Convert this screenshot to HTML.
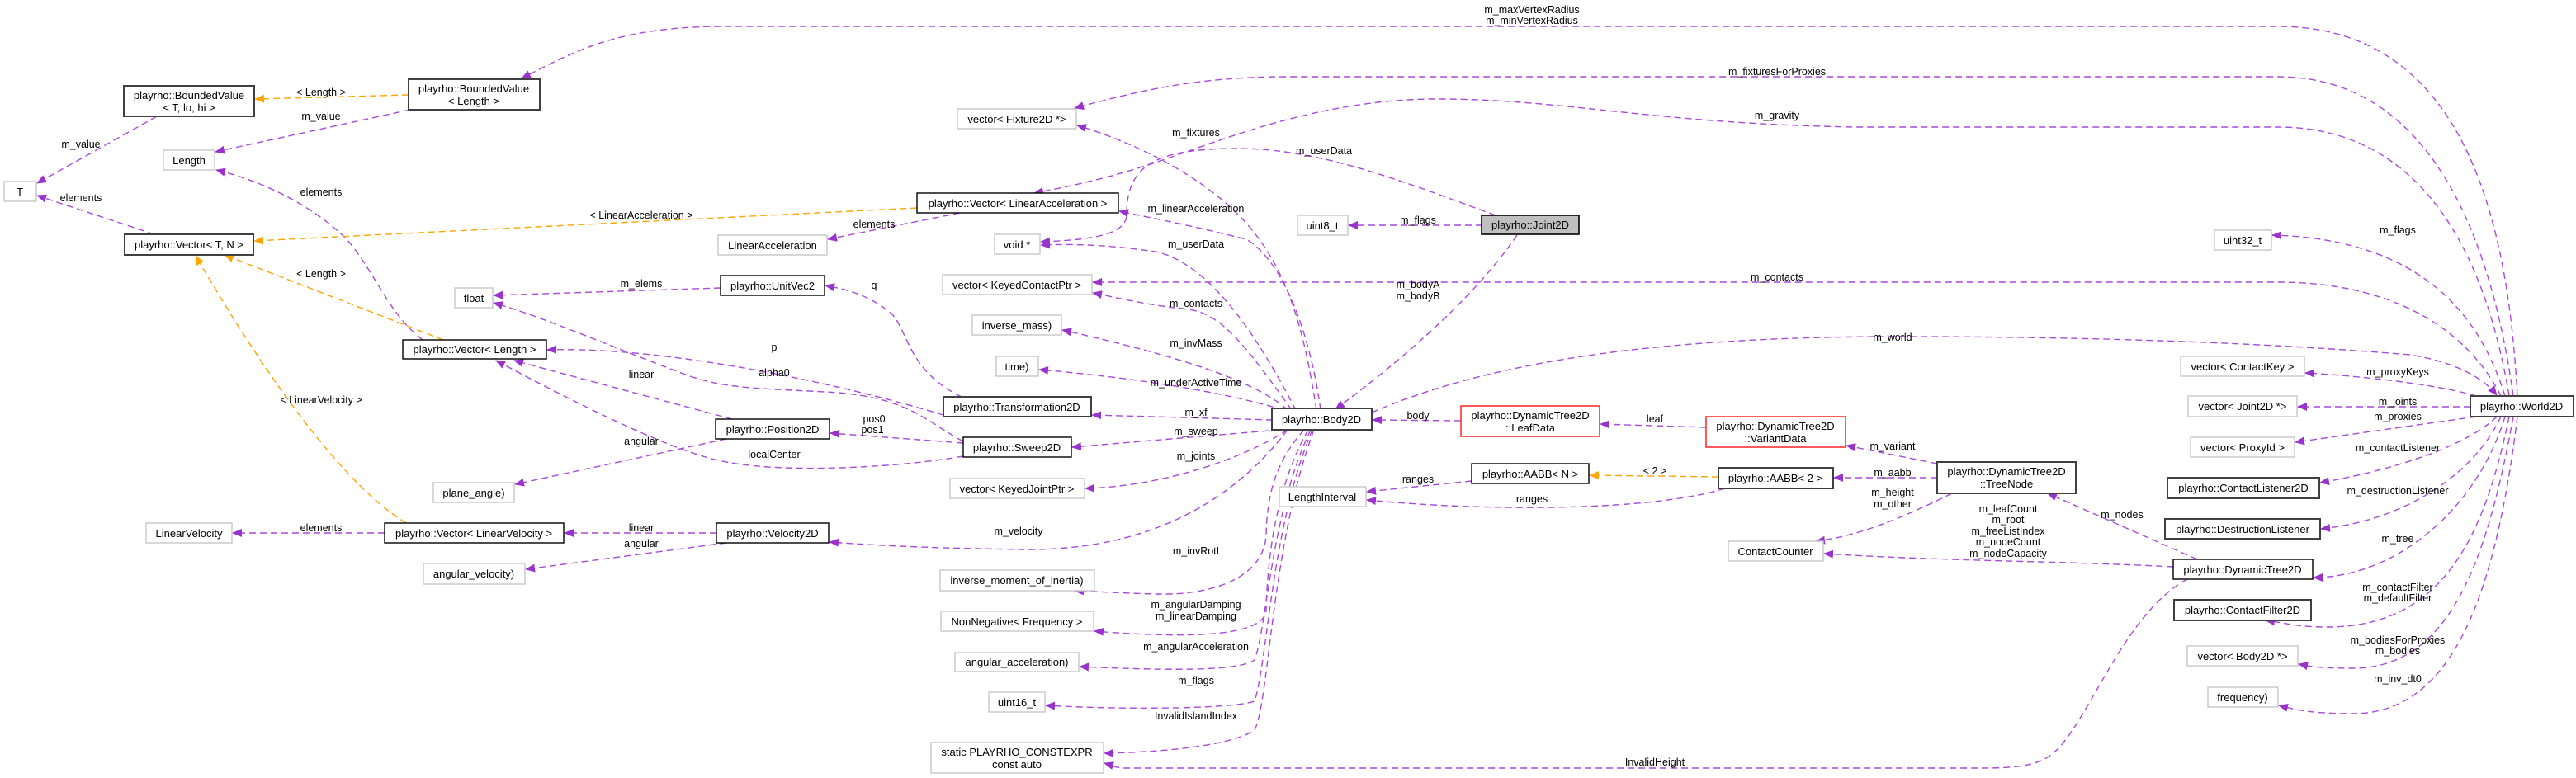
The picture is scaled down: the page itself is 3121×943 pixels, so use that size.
<!DOCTYPE html>
<html><head><meta charset="utf-8"><style>
html,body{margin:0;padding:0;background:#fff;}
svg{display:block;}
text{font-family:"Liberation Sans",sans-serif;font-size:13px;fill:#000;}
.n{text-anchor:middle;}
.l{text-anchor:middle;font-size:12.5px;}
.p{fill:none;stroke:#a94ad8;stroke-width:1.4;stroke-dasharray:8,5;}
.o{fill:none;stroke:#ffa500;stroke-width:1.4;stroke-dasharray:8,5;}
.b{fill:#fff;stroke:#000;stroke-width:1.4;}
.bd{fill:#fff;stroke:#404040;stroke-width:2;}
.g{fill:#fff;stroke:#c8c8c8;stroke-width:1.4;}
.r{fill:#fff;stroke:#ff3030;stroke-width:1.6;}
</style></head><body>
<svg width="3121" height="943" viewBox="0 0 3121 943" xmlns="http://www.w3.org/2000/svg">
<defs>
<marker id="ap" markerWidth="12" markerHeight="10" refX="11" refY="5" orient="auto" markerUnits="userSpaceOnUse"><path d="M0,0 L12,5 L0,10 z" fill="#9a32cd"/></marker>
<marker id="ao" markerWidth="12" markerHeight="10" refX="11" refY="5" orient="auto" markerUnits="userSpaceOnUse"><path d="M0,0 L12,5 L0,10 z" fill="#ffa500"/></marker>
</defs>
<g marker-end="url(#ap)">
<path class="o" marker-end="url(#ao)" d="M495,115 L309,120"/>
<path class="p" d="M497,133 L261,184"/>
<path class="p" d="M190,141 L45,222"/>
<path class="p" d="M187,284 L45,237"/>
<path class="p" d="M512,412 C470,380 455,330 420,290 C380,250 320,220 262,206"/>
<path class="o" marker-end="url(#ao)" d="M537,412 L272,309"/>
<path class="o" marker-end="url(#ao)" d="M1111,252 L308,292"/>
<path class="o" marker-end="url(#ao)" d="M492,634 C420,590 330,470 237,310"/>
<path class="p" d="M466,646 L282,646"/>
<path class="p" d="M1163,258 L1003,290"/>
<path class="p" d="M873,349 L598,358"/>
<path class="p" d="M887,508 L623,437"/>
<path class="p" d="M880,532 L624,587"/>
<path class="p" d="M1167,537 L1006,525"/>
<path class="p" d="M1167,553 C1100,565 960,575 880,560 C820,550 700,490 601,437"/>
<path class="p" d="M1167,535 C1120,510 1100,480 1000,475 C900,470 870,470 820,450 C740,420 660,385 598,367"/>
<path class="p" d="M1143,503 C1000,460 800,420 663,424"/>
<path class="p" d="M1165,481 C1100,450 1100,400 1080,380 C1050,355 1020,350 1000,346"/>
<path class="p" d="M868,646 L684,646"/>
<path class="p" d="M880,658 L637,690"/>
<path class="p" d="M1560,521 C1500,600 1400,668 1240,666 C1100,664 1050,660 1005,657"/>
<path class="p" d="M1542,509 L1323,503"/>
<path class="p" d="M1550,521 L1299,542"/>
<path class="p" d="M1560,521 C1500,560 1400,590 1315,592"/>
<path class="p" d="M1580,521 C1545,560 1535,600 1534,650 C1530,700 1470,722 1400,720 C1360,719 1330,717 1302,716"/>
<path class="p" d="M1585,521 C1540,600 1535,700 1534,740 C1532,770 1450,775 1326,765"/>
<path class="p" d="M1588,521 C1540,620 1535,760 1520,800 C1500,815 1400,812 1308,808"/>
<path class="p" d="M1590,521 C1540,640 1536,800 1520,850 C1490,860 1350,860 1267,855"/>
<path class="p" d="M1592,521 C1540,660 1538,850 1520,885 C1490,905 1400,912 1338,913"/>
<path class="p" d="M1560,497 C1520,460 1420,430 1287,400"/>
<path class="p" d="M1555,497 C1500,480 1400,460 1259,448"/>
<path class="p" d="M1565,497 C1510,420 1480,380 1440,375 C1390,370 1350,360 1324,355"/>
<path class="p" d="M1570,497 C1530,420 1470,320 1400,305 C1330,295 1290,296 1261,297"/>
<path class="p" d="M1595,497 C1580,400 1560,320 1500,260 C1440,200 1350,165 1305,152"/>
<path class="p" d="M1600,497 C1590,420 1560,320 1510,290 C1450,275 1400,265 1356,256"/>
<path class="p" d="M1838,285 C1780,370 1680,450 1618,496"/>
<path class="p" d="M1796,273 L1634,273"/>
<path class="p" d="M1812,261 C1700,220 1600,180 1500,180 C1400,180 1365,200 1365,260 C1365,285 1320,291 1261,293"/>
<path class="p" d="M3050,480 C3040,300 3000,32 2760,32 L880,32 C750,32 700,60 632,95"/>
<path class="p" d="M3045,480 C3020,300 2950,93 2760,93 L1560,93 C1450,93 1380,110 1302,131"/>
<path class="p" d="M3040,480 C3010,300 2930,154 2760,154 L2250,154 C2000,150 1900,120 1740,120 C1600,120 1480,170 1420,190 C1350,215 1300,225 1253,234"/>
<path class="p" d="M3035,480 C3010,400 2950,290 2753,285"/>
<path class="p" d="M3030,480 C2990,400 2900,342 2760,342 L1324,342"/>
<path class="p" d="M1662,500 C1800,440 2000,408 2300,408 C2600,408 2800,420 2920,430 C2980,440 3010,460 3025,479"/>
<path class="p" d="M3000,480 C2950,465 2850,455 2793,452"/>
<path class="p" d="M2993,493 L2784,493"/>
<path class="p" d="M3000,505 L2781,536"/>
<path class="p" d="M3025,505 C2990,540 2900,570 2811,585"/>
<path class="p" d="M3030,505 C3000,570 2920,630 2812,641"/>
<path class="p" d="M3035,505 C3000,620 2900,700 2803,700"/>
<path class="p" d="M3040,505 C3010,650 2960,760 2820,760 C2780,760 2770,755 2745,752"/>
<path class="p" d="M3045,505 C3010,700 2960,810 2850,810 C2810,810 2800,808 2785,805"/>
<path class="p" d="M3050,505 C3020,750 2960,865 2850,865 C2800,865 2780,860 2761,855"/>
<path class="p" d="M2662,678 L2481,598"/>
<path class="p" d="M2633,687 C2500,680 2350,680 2210,671"/>
<path class="p" d="M2650,702 C2580,740 2540,850 2500,900 C2480,925 2460,931 2400,931 L1360,931 C1350,930 1345,927 1338,925"/>
<path class="p" d="M2347,562 L2237,540"/>
<path class="p" d="M2347,579 L2222,579"/>
<path class="p" d="M2365,598 C2300,630 2250,650 2200,656"/>
<path class="p" d="M2067,518 L1939,514"/>
<path class="p" d="M1770,510 L1663,509"/>
<path class="o" marker-end="url(#ao)" d="M2082,578 L1926,576"/>
<path class="p" d="M1783,583 L1656,596"/>
<path class="p" d="M2090,592 C2000,620 1800,620 1656,606"/>
</g>

<!-- nodes -->
<rect class="bd" x="150" y="104" width="158" height="37"/><text class="n" x="229" y="120">playrho::BoundedValue</text><text class="n" x="229" y="135">&lt; T, lo, hi &gt;</text>
<rect class="bd" x="495" y="96" width="159" height="37"/><text class="n" x="574" y="112">playrho::BoundedValue</text><text class="n" x="574" y="127">&lt; Length &gt;</text>
<rect class="g" x="198" y="182" width="62" height="24"/><text class="n" x="229" y="199">Length</text>
<rect class="g" x="5" y="220" width="39" height="24"/><text class="n" x="24" y="237">T</text>
<rect class="bd" x="151" y="284" width="156" height="25"/><text class="n" x="229" y="301">playrho::Vector&lt; T, N &gt;</text>
<rect class="g" x="551" y="349" width="46" height="24"/><text class="n" x="574" y="366">float</text>
<rect class="b" x="488" y="412" width="174" height="23"/><text class="n" x="575" y="428">playrho::Vector&lt; Length &gt;</text>
<rect class="g" x="525" y="585" width="98" height="24"/><text class="n" x="574" y="602">plane_angle)</text>
<rect class="g" x="177" y="634" width="104" height="24"/><text class="n" x="229" y="651">LinearVelocity</text>
<rect class="b" x="466" y="634" width="217" height="24"/><text class="n" x="574" y="651">playrho::Vector&lt; LinearVelocity &gt;</text>
<rect class="g" x="513" y="683" width="123" height="25"/><text class="n" x="574" y="700">angular_velocity)</text>
<rect class="g" x="1160" y="132" width="144" height="24"/><text class="n" x="1232" y="149">vector&lt; Fixture2D *&gt;</text>
<rect class="b" x="1111" y="234" width="244" height="24"/><text class="n" x="1233" y="251">playrho::Vector&lt; LinearAcceleration &gt;</text>
<rect class="g" x="870" y="285" width="132" height="24"/><text class="n" x="936" y="302">LinearAcceleration</text>
<rect class="g" x="1205" y="284" width="55" height="24"/><text class="n" x="1232" y="301">void *</text>
<rect class="b" x="873" y="334" width="126" height="24"/><text class="n" x="936" y="351">playrho::UnitVec2</text>
<rect class="g" x="1142" y="333" width="181" height="24"/><text class="n" x="1232" y="350">vector&lt; KeyedContactPtr &gt;</text>
<rect class="g" x="1178" y="382" width="108" height="24"/><text class="n" x="1232" y="399">inverse_mass)</text>
<rect class="g" x="1207" y="432" width="51" height="24"/><text class="n" x="1232" y="449">time)</text>
<rect class="bd" x="1143" y="481" width="179" height="24"/><text class="n" x="1232" y="498">playrho::Transformation2D</text>
<rect class="b" x="867" y="508" width="138" height="24"/><text class="n" x="936" y="525">playrho::Position2D</text>
<rect class="b" x="1167" y="530" width="131" height="24"/><text class="n" x="1232" y="547">playrho::Sweep2D</text>
<rect class="g" x="1151" y="580" width="163" height="24"/><text class="n" x="1232" y="597">vector&lt; KeyedJointPtr &gt;</text>
<rect class="b" x="868" y="634" width="136" height="24"/><text class="n" x="936" y="651">playrho::Velocity2D</text>
<rect class="g" x="1139" y="691" width="187" height="25"/><text class="n" x="1232" y="708">inverse_moment_of_inertia)</text>
<rect class="g" x="1140" y="741" width="185" height="24"/><text class="n" x="1232" y="758">NonNegative&lt; Frequency &gt;</text>
<rect class="g" x="1157" y="791" width="150" height="23"/><text class="n" x="1232" y="807">angular_acceleration)</text>
<rect class="g" x="1198" y="839" width="68" height="24"/><text class="n" x="1232" y="856">uint16_t</text>
<rect class="g" x="1128" y="900" width="209" height="37"/><text class="n" x="1232" y="916">static PLAYRHO_CONSTEXPR</text><text class="n" x="1232" y="931">const auto</text>
<rect x="1795" y="261" width="118" height="23" fill="#bfbfbf" stroke="#000" stroke-width="1.6"/><text class="n" x="1854" y="277">playrho::Joint2D</text>
<rect class="g" x="1572" y="261" width="61" height="24"/><text class="n" x="1602" y="278">uint8_t</text>
<rect class="bd" x="1541" y="495" width="121" height="26"/><text class="n" x="1601" y="513">playrho::Body2D</text>
<rect class="r" x="1770" y="492" width="168" height="37"/><text class="n" x="1854" y="508">playrho::DynamicTree2D</text><text class="n" x="1854" y="523">::LeafData</text>
<rect class="r" x="2067" y="505" width="169" height="37"/><text class="n" x="2151" y="521">playrho::DynamicTree2D</text><text class="n" x="2151" y="536">::VariantData</text>
<rect class="b" x="1783" y="562" width="142" height="24"/><text class="n" x="1854" y="579">playrho::AABB&lt; N &gt;</text>
<rect class="bd" x="2082" y="567" width="139" height="25"/><text class="n" x="2151" y="584">playrho::AABB&lt; 2 &gt;</text>
<rect class="g" x="1550" y="590" width="105" height="24"/><text class="n" x="1602" y="607">LengthInterval</text>
<rect class="g" x="2094" y="656" width="115" height="24"/><text class="n" x="2151" y="673">ContactCounter</text>
<rect class="bd" x="2347" y="560" width="168" height="38"/><text class="n" x="2431" y="576">playrho::DynamicTree2D</text><text class="n" x="2431" y="591">::TreeNode</text>
<rect class="g" x="2683" y="279" width="69" height="24"/><text class="n" x="2717" y="296">uint32_t</text>
<rect class="g" x="2642" y="432" width="150" height="24"/><text class="n" x="2717" y="449">vector&lt; ContactKey &gt;</text>
<rect class="bd" x="2993" y="480" width="125" height="25"/><text class="n" x="3055" y="497">playrho::World2D</text>
<rect class="g" x="2651" y="480" width="132" height="25"/><text class="n" x="2717" y="497">vector&lt; Joint2D *&gt;</text>
<rect class="g" x="2654" y="530" width="126" height="24"/><text class="n" x="2717" y="547">vector&lt; ProxyId &gt;</text>
<rect class="bd" x="2626" y="579" width="184" height="25"/><text class="n" x="2718" y="596">playrho::ContactListener2D</text>
<rect class="bd" x="2623" y="629" width="188" height="24"/><text class="n" x="2717" y="646">playrho::DestructionListener</text>
<rect class="b" x="2633" y="678" width="169" height="24"/><text class="n" x="2717" y="695">playrho::DynamicTree2D</text>
<rect class="bd" x="2634" y="727" width="166" height="25"/><text class="n" x="2717" y="744">playrho::ContactFilter2D</text>
<rect class="g" x="2650" y="783" width="134" height="24"/><text class="n" x="2717" y="800">vector&lt; Body2D *&gt;</text>
<rect class="g" x="2675" y="833" width="85" height="24"/><text class="n" x="2717" y="850">frequency)</text>

<!-- labels -->
<g class="l">
<text class="l" x="389" y="116">&lt; Length &gt;</text>
<text class="l" x="389" y="145">m_value</text>
<text class="l" x="98" y="179">m_value</text>
<text class="l" x="98" y="244">elements</text>
<text class="l" x="389" y="237">elements</text>
<text class="l" x="389" y="336">&lt; Length &gt;</text>
<text class="l" x="777" y="265">&lt; LinearAcceleration &gt;</text>
<text class="l" x="389" y="489">&lt; LinearVelocity &gt;</text>
<text class="l" x="389" y="644">elements</text>
<text class="l" x="1059" y="276">elements</text>
<text class="l" x="777" y="348">m_elems</text>
<text class="l" x="1059" y="350">q</text>
<text class="l" x="938" y="425">p</text>
<text class="l" x="777" y="458">linear</text>
<text class="l" x="938" y="456">alpha0</text>
<text class="l" x="777" y="539">angular</text>
<text class="l" x="1059" y="512">pos0</text>
<text class="l" x="1057" y="525">pos1</text>
<text class="l" x="938" y="555">localCenter</text>
<text class="l" x="777" y="644">linear</text>
<text class="l" x="777" y="663">angular</text>
<text class="l" x="1234" y="648">m_velocity</text>
<text class="l" x="1856" y="16">m_maxVertexRadius</text>
<text class="l" x="1856" y="29">m_minVertexRadius</text>
<text class="l" x="2153" y="91">m_fixturesForProxies</text>
<text class="l" x="2153" y="144">m_gravity</text>
<text class="l" x="1449" y="165">m_fixtures</text>
<text class="l" x="1604" y="187">m_userData</text>
<text class="l" x="1449" y="257">m_linearAcceleration</text>
<text class="l" x="1718" y="271">m_flags</text>
<text class="l" x="1449" y="300">m_userData</text>
<text class="l" x="2153" y="340">m_contacts</text>
<text class="l" x="1718" y="349">m_bodyA</text>
<text class="l" x="1718" y="363">m_bodyB</text>
<text class="l" x="1449" y="372">m_contacts</text>
<text class="l" x="1449" y="420">m_invMass</text>
<text class="l" x="1449" y="468">m_underActiveTime</text>
<text class="l" x="1449" y="504">m_xf</text>
<text class="l" x="1449" y="527">m_sweep</text>
<text class="l" x="1449" y="557">m_joints</text>
<text class="l" x="1718" y="508">body</text>
<text class="l" x="2005" y="512">leaf</text>
<text class="l" x="1718" y="585">ranges</text>
<text class="l" x="2005" y="575">&lt; 2 &gt;</text>
<text class="l" x="1856" y="609">ranges</text>
<text class="l" x="1449" y="672">m_invRotI</text>
<text class="l" x="1449" y="737">m_angularDamping</text>
<text class="l" x="1449" y="751">m_linearDamping</text>
<text class="l" x="1449" y="788">m_angularAcceleration</text>
<text class="l" x="1449" y="829">m_flags</text>
<text class="l" x="1449" y="872">InvalidIslandIndex</text>
<text class="l" x="2005" y="928">InvalidHeight</text>
<text class="l" x="2905" y="283">m_flags</text>
<text class="l" x="2293" y="413">m_world</text>
<text class="l" x="2905" y="455">m_proxyKeys</text>
<text class="l" x="2905" y="491">m_joints</text>
<text class="l" x="2905" y="509">m_proxies</text>
<text class="l" x="2905" y="547">m_contactListener</text>
<text class="l" x="2905" y="599">m_destructionListener</text>
<text class="l" x="2905" y="657">m_tree</text>
<text class="l" x="2905" y="716">m_contactFilter</text>
<text class="l" x="2905" y="729">m_defaultFilter</text>
<text class="l" x="2905" y="780">m_bodiesForProxies</text>
<text class="l" x="2905" y="793">m_bodies</text>
<text class="l" x="2905" y="827">m_inv_dt0</text>
<text class="l" x="2293" y="545">m_variant</text>
<text class="l" x="2293" y="577">m_aabb</text>
<text class="l" x="2293" y="601">m_height</text>
<text class="l" x="2293" y="615">m_other</text>
<text class="l" x="2433" y="621">m_leafCount</text>
<text class="l" x="2433" y="634">m_root</text>
<text class="l" x="2433" y="648">m_freeListIndex</text>
<text class="l" x="2433" y="661">m_nodeCount</text>
<text class="l" x="2433" y="675">m_nodeCapacity</text>
<text class="l" x="2571" y="628">m_nodes</text>
</g>
</svg>
</body></html>
